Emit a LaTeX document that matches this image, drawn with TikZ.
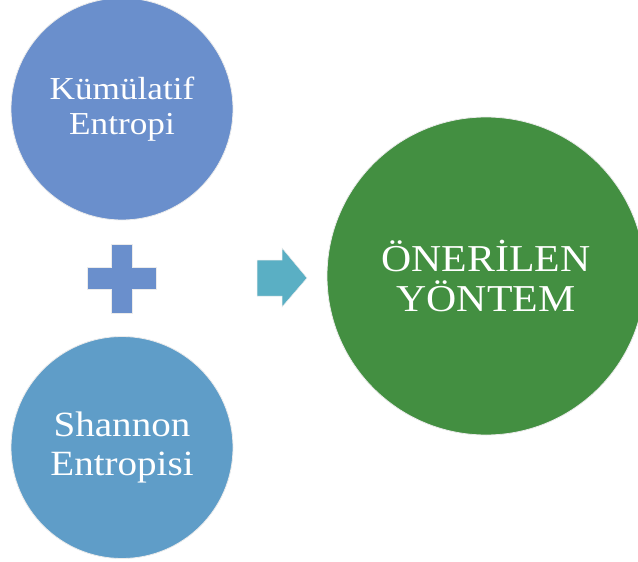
\documentclass[tikz,border=0pt]{standalone}
\usepackage{fontspec}
\setmainfont{Liberation Serif}[FakeStretch=1.1]
\definecolor{topblue}{HTML}{6A8FCC}
\definecolor{lowblue}{HTML}{5F9DC8}
\definecolor{resgreen}{HTML}{438F41}
\definecolor{plusblue}{HTML}{6A8FCC}
\definecolor{arrowteal}{HTML}{5AAFC4}
\tikzset{
  bubble/.style={circle, draw=black!8, line width=0.8pt, text=white,
    align=center, inner sep=0pt},
}
\begin{document}
\begin{tikzpicture}[x=1pt, y=-1pt]
  \useasboundingbox (0,0) rectangle (638,562);
  \clip (0,0) rectangle (638,562);

  % input circles
  \node[bubble, fill=topblue, minimum size=222pt,
        font=\fontsize{32}{35}\selectfont] (cum) at (122,109)
        {Kümülatif\\Entropi};
  \node[bubble, fill=lowblue, minimum size=222pt,
        font=\fontsize{35.5}{39}\selectfont] (sha) at (122,447.5)
        {Shannon\\Entropisi};

  % result circle
  \node[bubble, fill=resgreen, minimum size=318pt,
        font=\fontsize{38}{40}\selectfont] (res) at (486,276)
        {ÖNERİLEN\\YÖNTEM};

  % plus sign
  \coordinate (plus) at (121.5,278.5);
  \fill[plusblue, draw=black!8, line width=0.5pt]
    ([shift={(-10.5,-34.5)}]plus) -- ([shift={(10.5,-34.5)}]plus)
    -- ([shift={(10.5,-11)}]plus) -- ([shift={(34.5,-11)}]plus)
    -- ([shift={(34.5,11)}]plus) -- ([shift={(10.5,11)}]plus)
    -- ([shift={(10.5,34.5)}]plus) -- ([shift={(-10.5,34.5)}]plus)
    -- ([shift={(-10.5,11)}]plus) -- ([shift={(-34.5,11)}]plus)
    -- ([shift={(-34.5,-11)}]plus) -- ([shift={(-10.5,-11)}]plus) -- cycle;

  % arrow
  \coordinate (arr) at (257,278);
  \fill[arrowteal, draw=black!8, line width=0.5pt]
    ([shift={(0,-18)}]arr) -- ([shift={(25,-18)}]arr)
    -- ([shift={(25,-30)}]arr) -- ([shift={(50,0)}]arr)
    -- ([shift={(25,29)}]arr) -- ([shift={(25,18)}]arr)
    -- ([shift={(0,18)}]arr) -- cycle;
\end{tikzpicture}
\end{document}
